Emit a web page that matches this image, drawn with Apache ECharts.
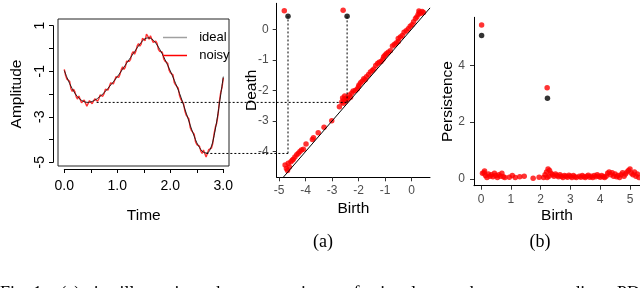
<!DOCTYPE html>
<html><head><meta charset="utf-8">
<script src="https://cdn.jsdelivr.net/npm/echarts@6/dist/echarts.min.js"></script>
<style>html,body{margin:0;padding:0;background:#fff}#c{width:640px;height:288px}</style>
</head><body><div id="c"></div>
<script>
// ---- Panel (a) left: signal ----
const idealTime = [0.00,0.05,0.10,0.15,0.20,0.25,0.30,0.35,0.40,0.45,0.50,0.55,0.60,0.65,0.70,0.75,0.80,0.85,0.90,0.95,1.00,1.05,1.10,1.15,1.20,1.25,1.30,1.35,1.40,1.45,1.50,1.55,1.60,1.65,1.70,1.75,1.80,1.85,1.90,1.95,2.00,2.05,2.10,2.15,2.20,2.25,2.30,2.35,2.40,2.45,2.50,2.55,2.60,2.65,2.70,2.75,2.80,2.85,2.90,2.95,3.00];
const idealValues = [-0.98,-1.28,-1.55,-1.78,-1.98,-2.13,-2.25,-2.32,-2.37,-2.38,-2.36,-2.31,-2.25,-2.16,-2.07,-1.95,-1.83,-1.69,-1.55,-1.40,-1.25,-1.09,-0.92,-0.75,-0.58,-0.41,-0.24,-0.07,0.10,0.25,0.38,0.44,0.45,0.40,0.30,0.14,-0.05,-0.26,-0.50,-0.75,-1.00,-1.27,-1.55,-1.84,-2.15,-2.50,-2.85,-3.20,-3.55,-3.86,-4.15,-4.36,-4.52,-4.59,-4.60,-4.45,-4.12,-3.55,-2.85,-2.05,-1.25];
const noisyTime = [0.000,0.025,0.050,0.075,0.100,0.125,0.150,0.175,0.200,0.225,0.250,0.275,0.300,0.325,0.350,0.375,0.400,0.425,0.450,0.475,0.500,0.525,0.550,0.575,0.600,0.625,0.650,0.675,0.700,0.725,0.750,0.775,0.800,0.825,0.850,0.875,0.900,0.925,0.950,0.975,1.000,1.025,1.050,1.075,1.100,1.125,1.150,1.175,1.200,1.225,1.250,1.275,1.300,1.325,1.350,1.375,1.400,1.425,1.450,1.475,1.500,1.525,1.550,1.575,1.600,1.625,1.650,1.675,1.700,1.725,1.750,1.775,1.800,1.825,1.850,1.875,1.900,1.925,1.950,1.975,2.000,2.025,2.050,2.075,2.100,2.125,2.150,2.175,2.200,2.225,2.250,2.275,2.300,2.325,2.350,2.375,2.400,2.425,2.450,2.475,2.500,2.525,2.550,2.575,2.600,2.625,2.650,2.675,2.700,2.725,2.750,2.775,2.800,2.825,2.850,2.875,2.900,2.925,2.950,2.975,3.000];
const noisyValues = [-0.93,-1.20,-1.36,-1.33,-1.45,-1.78,-1.90,-1.80,-1.92,-2.14,-2.23,-2.10,-2.17,-2.40,-2.38,-2.27,-2.32,-2.55,-2.52,-2.30,-2.29,-2.44,-2.40,-2.22,-2.21,-2.33,-2.23,-2.05,-1.98,-2.11,-2.00,-1.80,-1.72,-1.84,-1.77,-1.52,-1.49,-1.57,-1.50,-1.25,-1.17,-1.28,-1.15,-0.94,-0.82,-0.93,-0.84,-0.57,-0.51,-0.58,-0.49,-0.24,-0.15,-0.26,-0.13,0.10,0.20,0.09,0.18,0.43,0.50,0.33,0.62,0.53,0.39,0.55,0.49,0.26,0.22,0.31,0.21,-0.05,-0.14,-0.07,-0.18,-0.47,-0.57,-0.52,-0.66,-0.96,-1.08,-1.04,-1.17,-1.51,-1.61,-1.62,-1.76,-2.09,-2.25,-2.23,-2.43,-2.76,-2.94,-2.94,-3.10,-3.48,-3.62,-3.63,-3.77,-4.10,-4.23,-4.16,-4.30,-4.52,-4.62,-4.47,-4.52,-4.78,-4.72,-4.45,-4.37,-4.39,-4.19,-3.76,-3.46,-3.29,-2.93,-2.35,-1.95,-1.73,-1.30];
const timeTicks = [0,0.5,1,1.5,2,2.5,3];
const timeLabels = [0,1,2,3];
const ampTicks = [1,0,-1,-2,-3,-4,-5];
const ampLabels = [1,-1,-3,-5];

// ---- Panel (a) right: persistence diagram ----
const pdBirth = [-4.77,-4.72,-4.68,-4.65,-4.61,-4.55,-4.50,-4.46,-4.40,-4.33,-4.27,-4.21,-4.15,-4.08,-3.98,-3.74,-3.70,-3.52,-3.30,-3.01,-2.72,
 -2.63,-2.60,-2.57,-2.55,-2.52,-2.48,-2.45,-2.40,-2.35,-2.30,-2.25,-2.20,-2.12,-2.05,-2.00,-1.98,-1.92,-1.86,-1.80,-1.75,-1.70,-1.62,-1.55,-1.48,-1.42,-1.35,-1.28,-1.22,-1.15,-1.08,-1.05,-1.00,-0.95,-0.88,-0.80,-0.72,-0.65,-0.58,-0.50,-0.50,-0.42,-0.35,-0.28,-0.20,-0.12,-0.05,0.02,0.08,0.15,0.20,0.25,0.28,0.30,0.35,0.40,0.45];
const pdDeath = [-4.44,-4.55,-4.62,-4.38,-4.50,-4.33,-4.28,-4.25,-4.18,-4.10,-4.05,-4.00,-3.95,-3.92,-3.75,-3.60,-3.55,-3.38,-3.20,-2.99,-2.53,
 -2.38,-2.25,-2.42,-2.30,-2.18,-2.35,-2.25,-2.28,-2.15,-2.22,-2.08,-2.02,-2.00,-1.95,-1.88,-1.82,-1.75,-1.70,-1.62,-1.65,-1.55,-1.48,-1.40,-1.35,-1.30,-1.18,-1.12,-1.08,-1.05,-0.98,-0.90,-0.85,-0.80,-0.75,-0.70,-0.55,-0.50,-0.45,-0.40,-0.30,-0.25,-0.20,-0.10,-0.05,0.02,0.10,0.15,0.25,0.35,0.40,0.48,0.60,0.55,0.52,0.58,0.55];
const pdNoisyTopBirth = [-4.80,-2.58];
const pdNoisyTopDeath = [0.61,0.62];
const pdIdealTopBirth = [-4.66,-2.43];
const pdIdealTopDeath = [0.43,0.43];
const diagonal = [-4.84,0.70];
const birthTicks = [-5,-4,-3,-2,-1,0];
const deathTicks = [-4,-3,-2,-1,0];

// ---- Panel (b): persistence vs birth ----
const pbBirth = [0.05,0.10,0.12,0.15,0.20,0.25,0.30,0.35,0.40,0.45,0.50,0.55,0.60,0.65,0.70,0.75,0.80,0.95,1.05,1.15,1.30,1.45,1.75,1.95,2.10,2.15,2.20,2.22,2.25,2.28,2.30,2.35,2.40,2.45,2.50,2.55,2.60,2.65,2.70,2.75,2.80,2.85,2.90,2.95,3.00,3.05,3.10,3.15,3.20,3.30,3.35,3.40,3.45,3.50,3.55,3.60,3.65,3.70,3.75,3.80,3.85,3.90,3.95,4.00,4.05,4.10,4.15,4.20,4.25,4.30,4.35,4.40,4.45,4.50,4.55,4.60,4.65,4.70,4.75,4.80,4.85,4.90,4.95,5.00,5.05,5.10,5.15,5.20,5.25,5.30];
const pbPers = [0.20,0.22,0.28,0.12,0.05,0.18,0.10,0.15,0.08,0.20,0.12,0.05,0.15,0.10,0.20,0.08,0.05,0.06,0.12,0.05,0.08,0.10,0.03,0.06,0.05,0.15,0.25,0.05,0.35,0.10,0.30,0.20,0.15,0.10,0.18,0.12,0.08,0.15,0.10,0.05,0.12,0.10,0.06,0.13,0.10,0.05,0.12,0.08,0.05,0.10,0.06,0.12,0.08,0.05,0.10,0.13,0.06,0.10,0.05,0.12,0.08,0.15,0.10,0.06,0.12,0.08,0.05,0.10,0.20,0.25,0.15,0.22,0.10,0.18,0.08,0.12,0.05,0.15,0.22,0.10,0.18,0.25,0.30,0.35,0.20,0.15,0.25,0.10,0.18,0.05];
const pbNoisyTopBirth = [0.02,2.22];
const pbNoisyTopPers = [5.42,3.21];
const pbIdealTopBirth = [0.02,2.23];
const pbIdealTopPers = [5.05,2.84];
const pbBirthTicks = [0,1,2,3,4,5];
const persTicks = [0,2,4];

// ---- guide lines (annotation linking minima to births) ----
const guideStartT = [0.61,2.68];
const guideLevel = [-2.38,-4.62];
const guideBirth = [-2.43,-4.66];
const guideTopDeath = 0.43;

// ---- caption text ----
const captionWords = ['Fig. 1.','(a)','is','illustrating','the','comparison','of','signals','to','the','corresponding','PD'];

const SANS = '"Liberation Sans", Arial, sans-serif';
const SERIF = '"Liberation Serif", "Times New Roman", serif';

function zip(a,b){return a.map((v,i)=>[v,b[i]]);}
function hidden(gi){return {gridIndex:gi,type:'value',show:false,min:0,max:1};}
const ggAxisLine = {show:true,onZero:false,lineStyle:{color:'#000',width:1}};
const ggTick = {show:true,length:4,lineStyle:{color:'#333'}};
const nameStyle = {fontSize:15.5,color:'#000',fontFamily:SANS};

const option = {
  animation:false,
  backgroundColor:'#fff',
  textStyle:{fontFamily:SANS},
  grid:[
    {left:58,top:19,width:171,height:147,show:true,borderColor:'#222',borderWidth:1,backgroundColor:'transparent',containLabel:false,outerBoundsMode:'none'},
    {left:64.3,top:19,width:159,height:147,containLabel:false,outerBoundsMode:'none'},
    {left:58,top:25.7,width:171,height:136.6,containLabel:false,outerBoundsMode:'none'},
    {left:276.7,top:3.3,width:153.3,height:174,containLabel:false,outerBoundsMode:'none'},
    {left:474,top:17.3,width:166,height:168.4,containLabel:false,outerBoundsMode:'none'}
  ],
  xAxis:[
    {gridIndex:0,type:'value',show:false,min:-0.119,max:3.107},
    {gridIndex:1,type:'value',min:0,max:3,offset:3,
      axisLine:{show:true,onZero:false,lineStyle:{color:'#000'}},
      axisTick:{show:true,length:4,lineStyle:{color:'#000'},customValues:timeTicks},
      axisLabel:{customValues:timeLabels,formatter:v=>Number(v).toFixed(1),fontSize:14,color:'#000',margin:10,fontFamily:SANS},
      splitLine:{show:false},
      name:'Time',nameLocation:'middle',nameGap:39,nameMoveOverlap:false,nameTextStyle:nameStyle},
    hidden(2),
    {gridIndex:3,type:'value',min:-5.087,max:0.698,
      axisLine:ggAxisLine,
      axisTick:Object.assign({customValues:birthTicks},ggTick),
      axisLabel:{customValues:birthTicks,fontSize:12,color:'#4d4d4d',margin:7,fontFamily:SANS},
      splitLine:{show:false},
      name:'Birth',nameLocation:'middle',nameGap:23,nameMoveOverlap:false,nameTextStyle:nameStyle},
    {gridIndex:4,type:'value',min:-0.235,max:5.336,
      axisLine:ggAxisLine,
      axisTick:Object.assign({customValues:pbBirthTicks},ggTick),
      axisLabel:{customValues:pbBirthTicks,fontSize:12,color:'#4d4d4d',margin:8,fontFamily:SANS},
      splitLine:{show:false},
      name:'Birth',nameLocation:'middle',nameGap:22.5,nameMoveOverlap:false,nameTextStyle:nameStyle}
  ],
  yAxis:[
    {gridIndex:0,type:'value',show:false,min:-5.17,max:1.28},
    hidden(1),
    {gridIndex:2,type:'value',min:-5,max:1,offset:5,
      axisLine:{show:true,onZero:false,lineStyle:{color:'#000'}},
      axisTick:{show:true,length:4,lineStyle:{color:'#000'},customValues:ampTicks},
      axisLabel:{customValues:ampLabels,rotate:90,fontSize:14,color:'#000',margin:6,fontFamily:SANS},
      splitLine:{show:false},
      name:'Amplitude',nameLocation:'middle',nameRotate:90,nameGap:28,nameMoveOverlap:false,nameTextStyle:nameStyle},
    {gridIndex:3,type:'value',min:-4.84,max:0.85,
      axisLine:ggAxisLine,
      axisTick:Object.assign({customValues:deathTicks},ggTick),
      axisLabel:{customValues:deathTicks,fontSize:12,color:'#4d4d4d',margin:8,fontFamily:SANS},
      splitLine:{show:false},
      name:'Death',nameLocation:'middle',nameRotate:90,nameGap:17,nameMoveOverlap:false,nameTextStyle:nameStyle},
    {gridIndex:4,type:'value',min:-0.236,max:5.69,
      axisLine:ggAxisLine,
      axisTick:Object.assign({customValues:persTicks},ggTick),
      axisLabel:{customValues:persTicks,fontSize:12,color:'#4d4d4d',margin:9,fontFamily:SANS},
      splitLine:{show:false},
      name:'Persistence',nameLocation:'middle',nameRotate:90,nameGap:18,nameMoveOverlap:false,nameTextStyle:nameStyle}
  ],
  legend:{
    left:163,top:31,padding:0,orient:'vertical',itemWidth:24,itemHeight:1.5,itemGap:5,
    textStyle:{fontSize:13,color:'#000',fontFamily:SANS},
    formatter:n=>'  '+n,
    data:[{name:'ideal',icon:'rect',itemStyle:{color:'#a0a0a0'}},{name:'noisy',icon:'rect',itemStyle:{color:'#ff0000'}}]
  },
  series:[
    {name:'noisy',type:'line',xAxisIndex:0,yAxisIndex:0,data:zip(noisyTime,noisyValues),symbol:'none',lineStyle:{color:'#ff1a1a',width:1.4,opacity:0.9},itemStyle:{color:'#ff0000'},z:2},
    {name:'ideal',type:'line',xAxisIndex:0,yAxisIndex:0,data:zip(idealTime,idealValues),symbol:'none',smooth:0.3,lineStyle:{color:'#111',width:0.9},itemStyle:{color:'#a0a0a0'},z:3},
    {type:'scatter',xAxisIndex:3,yAxisIndex:3,data:zip(pdBirth,pdDeath).concat(zip(pdNoisyTopBirth,pdNoisyTopDeath)),symbolSize:5.5,itemStyle:{color:'#ff0000'},z:2},
    {type:'line',xAxisIndex:3,yAxisIndex:3,data:zip(diagonal,diagonal),symbol:'none',lineStyle:{color:'#000',width:1},z:3},
    {type:'scatter',xAxisIndex:3,yAxisIndex:3,data:zip(pdIdealTopBirth,pdIdealTopDeath),symbolSize:5.5,itemStyle:{color:'#000'},z:4},
    {type:'scatter',xAxisIndex:4,yAxisIndex:4,data:zip(pbBirth,pbPers).concat(zip(pbNoisyTopBirth,pbNoisyTopPers)),symbolSize:5.5,itemStyle:{color:'#ff0000'},z:2},
    {type:'scatter',xAxisIndex:4,yAxisIndex:4,data:zip(pbIdealTopBirth,pbIdealTopPers),symbolSize:5.5,itemStyle:{color:'#000'},z:4}
  ]
};

const chart = echarts.init(document.getElementById('c'), null, {renderer:'canvas'});
chart.setOption(option);

const graphics = [];
for (let i = 0; i < guideLevel.length; i++) {
  const p1 = chart.convertToPixel({gridIndex:0}, [guideStartT[i], guideLevel[i]]);
  const p2 = chart.convertToPixel({gridIndex:3}, [guideBirth[i], guideTopDeath]);
  graphics.push({type:'line',z:50,silent:true,shape:{x1:p1[0],y1:p1[1],x2:p2[0],y2:p1[1]},style:{stroke:'#000',lineWidth:1,lineDash:[2,2]}});
  graphics.push({type:'line',z:50,silent:true,shape:{x1:p2[0],y1:p1[1],x2:p2[0],y2:p2[1]},style:{stroke:'#000',lineWidth:1,lineDash:[2,2]}});
}
const txt = (s,x,y,font,align,va) => ({type:'text',x:x,y:y,silent:true,z:60,style:{text:s,font:font,fill:'#000',align:align,verticalAlign:va,textAlign:align,textVerticalAlign:va}});
graphics.push(txt('(a)',323,242,'18px '+SERIF,'center','middle'));
graphics.push(txt('(b)',540,242,'18px '+SERIF,'center','middle'));

// justified caption line (partly cut by the bottom edge)
const capFont = '18px ' + SERIF;
const cctx = document.createElement('canvas').getContext('2d');
cctx.font = capFont;
const widths = captionWords.map(w => cctx.measureText(w).width);
const totalW = widths.reduce((a,b)=>a+b,0);
const gap = (640 - totalW) / (captionWords.length - 1);
let cx = 0;
captionWords.forEach((w,i) => { graphics.push(txt(w,cx,285,capFont,'left','top')); cx += widths[i] + gap; });

chart.setOption({graphic:graphics});
</script>
</body></html>
